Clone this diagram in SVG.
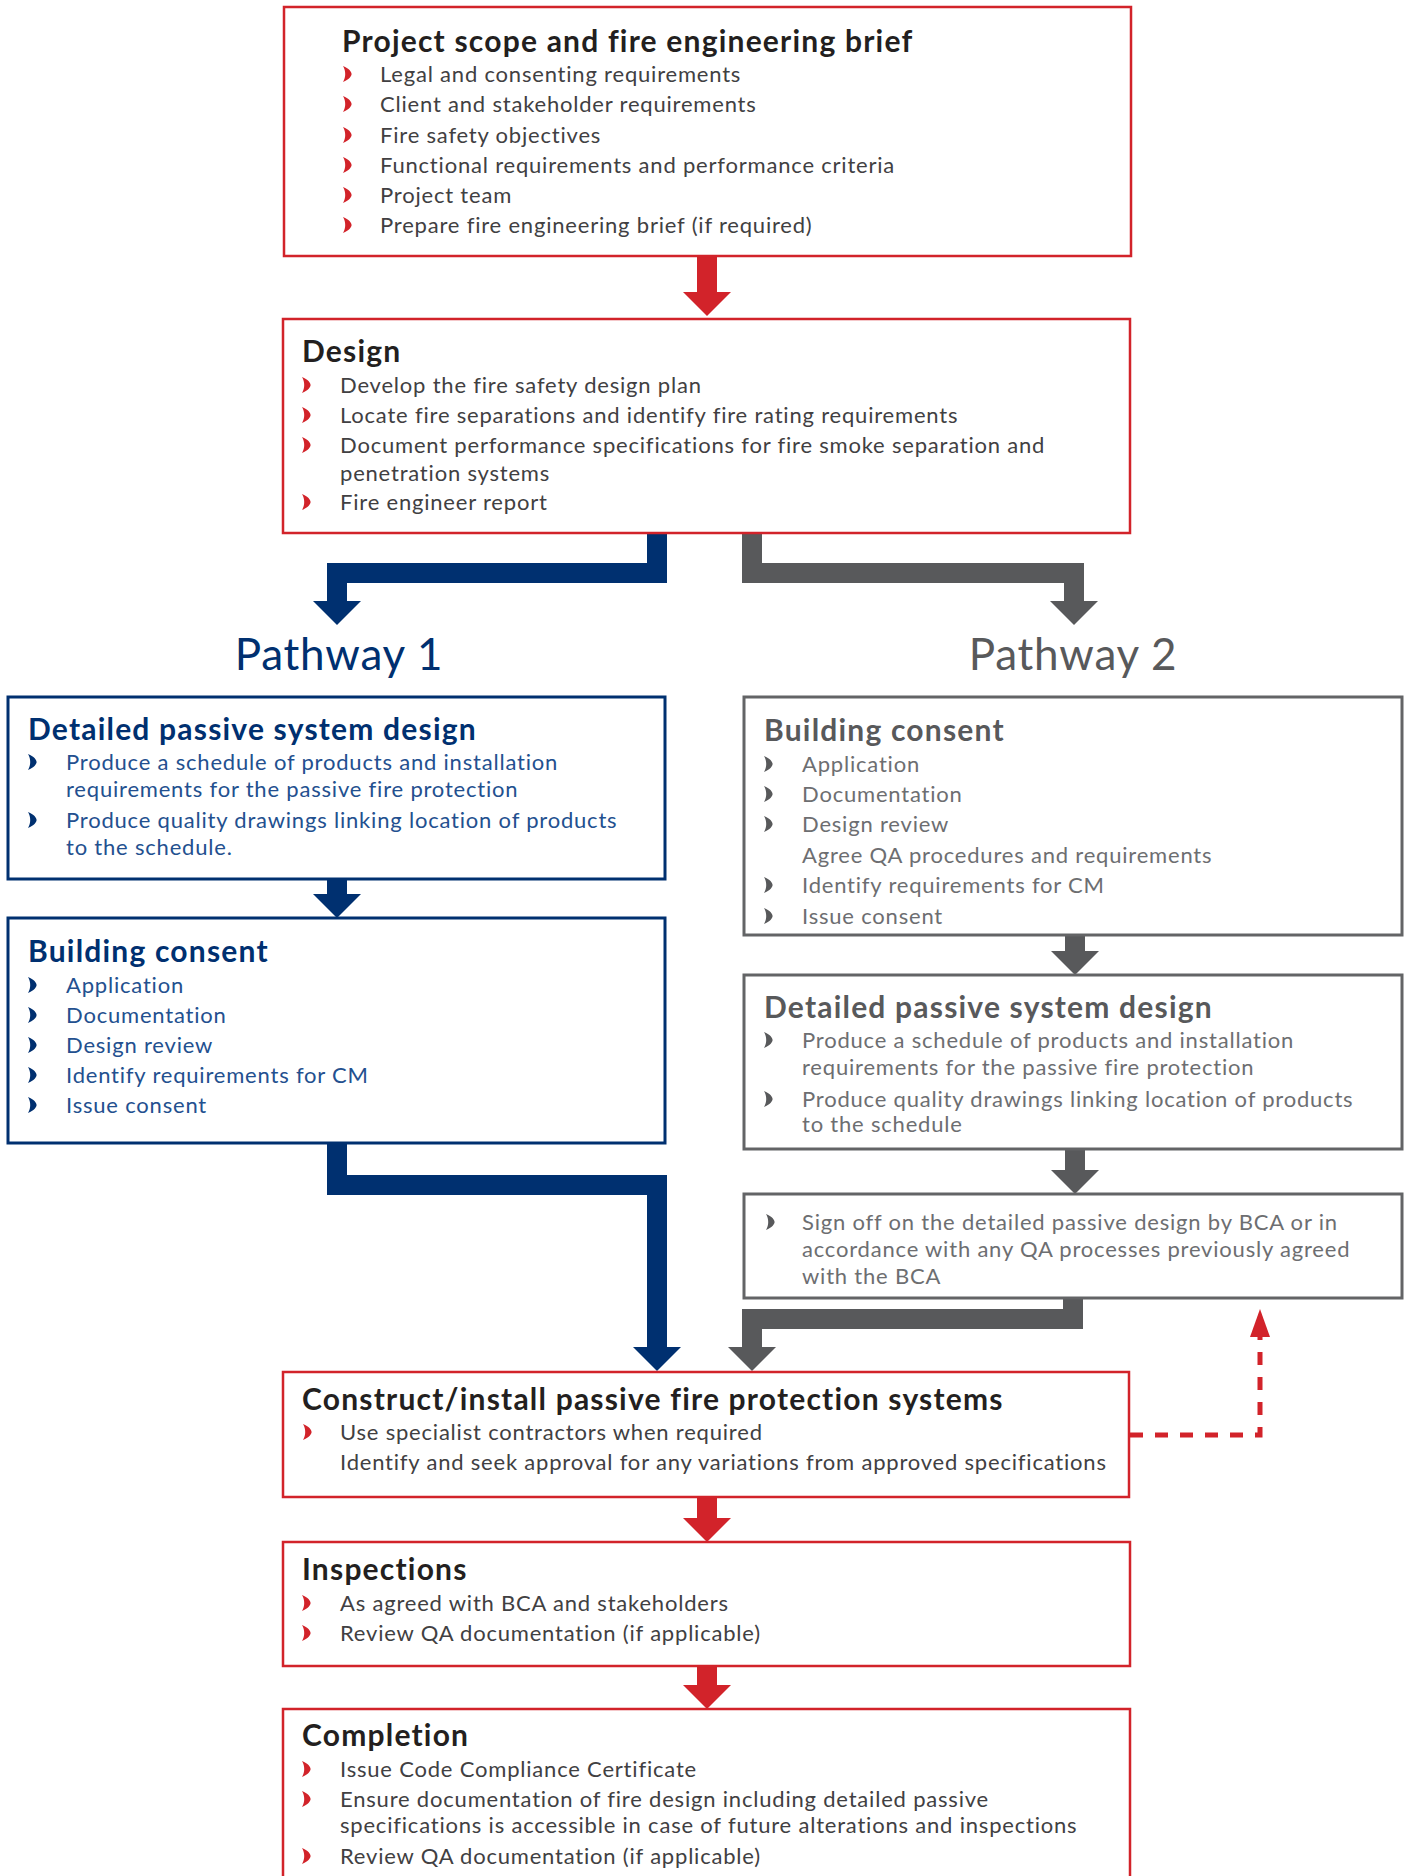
<svg xmlns="http://www.w3.org/2000/svg" xmlns:xlink="http://www.w3.org/1999/xlink" width="1407" height="1876" viewBox="0 0 1407 1876">
<style>
  .bg{fill:#ffffff}
  .rbox{fill:#ffffff;stroke:#d2232a;stroke-width:2.5}
  .bbox{fill:#ffffff;stroke:#003070;stroke-width:3}
  .gbox{fill:#ffffff;stroke:#636466;stroke-width:3}
  text{font-family:Lato,"Liberation Sans",sans-serif}
  .t{font-size:30px;font-weight:700;letter-spacing:1.2px}
  .b{font-size:22px;letter-spacing:0.8px}
  .tk{fill:#231f20}
  .bk{fill:#414042}
  .tb{fill:#003070}
  .bb{fill:#23508f}
  .tg{fill:#58595b}
  .bg2{fill:#6d6e71}
  .pw{font-size:44px;letter-spacing:0.8px}
  .rc{fill:#d2232a}
  .bc{fill:#003070}
  .gc{fill:#58595b}
  .cr{fill:none;stroke:#d2232a;stroke-width:20}
  .cb{fill:none;stroke:#003070;stroke-width:20}
  .cg{fill:none;stroke:#58595b;stroke-width:20}
  .cd{fill:none;stroke:#d2232a;stroke-width:5;stroke-dasharray:13 12}
</style>
<defs>
  <path id="bul" d="M0,-16 C6,-13.5 8.6,-10.2 8.6,-8 C8.6,-5.8 6,-2.5 0,0 C1.6,-2.8 2.2,-5.5 2.2,-8 C2.2,-10.5 1.6,-13.2 0,-16 Z"/>
  <marker id="hr" markerUnits="userSpaceOnUse" markerWidth="24" markerHeight="48" viewBox="0 0 24 48" refX="0" refY="24" orient="auto"><path d="M0,0 L24,24 L0,48 Z" fill="#d2232a"/></marker>
  <marker id="hb" markerUnits="userSpaceOnUse" markerWidth="24" markerHeight="48" viewBox="0 0 24 48" refX="0" refY="24" orient="auto"><path d="M0,0 L24,24 L0,48 Z" fill="#003070"/></marker>
  <marker id="hg" markerUnits="userSpaceOnUse" markerWidth="24" markerHeight="48" viewBox="0 0 24 48" refX="0" refY="24" orient="auto"><path d="M0,0 L24,24 L0,48 Z" fill="#58595b"/></marker>
  <marker id="hd" markerUnits="userSpaceOnUse" markerWidth="28" markerHeight="20" viewBox="0 0 28 20" refX="0" refY="10" orient="auto"><path d="M0,0 L28,10 L0,20 Z" fill="#d2232a"/></marker>
</defs>
<rect class="bg" x="0" y="0" width="1407" height="1876"/>

<g id="connectors">
  <path class="cr" d="M707,256 V292" marker-end="url(#hr)"/>
  <path class="cb" d="M657,533 V573 H337 V601" marker-end="url(#hb)"/>
  <path class="cg" d="M752,533 V573 H1074 V601" marker-end="url(#hg)"/>
  <path class="cb" d="M337,879 V894" marker-end="url(#hb)"/>
  <path class="cb" d="M337,1143 V1185 H657 V1347" marker-end="url(#hb)"/>
  <path class="cg" d="M1075,935 V951" marker-end="url(#hg)"/>
  <path class="cg" d="M1075,1149 V1170" marker-end="url(#hg)"/>
  <path class="cg" d="M1073,1298 V1319 H752 V1347" marker-end="url(#hg)"/>
  <path class="cr" d="M707,1497 V1518" marker-end="url(#hr)"/>
  <path class="cr" d="M707,1666 V1685" marker-end="url(#hr)"/>
  <path class="cd" d="M1130,1435 H1260 V1337" marker-end="url(#hd)"/>
</g>

<g id="brief">
  <rect class="rbox" x="284" y="7" width="847" height="249"/>
  <text class="t tk" x="342" y="52">Project scope and fire engineering brief</text>
  <g class="rc">
    <use xlink:href="#bul" x="343" y="82"/><use xlink:href="#bul" x="343" y="112"/><use xlink:href="#bul" x="343" y="143"/>
    <use xlink:href="#bul" x="343" y="173"/><use xlink:href="#bul" x="343" y="203"/><use xlink:href="#bul" x="343" y="233"/>
  </g>
  <text class="b bk" x="380" y="82">Legal and consenting requirements</text>
  <text class="b bk" x="380" y="112">Client and stakeholder requirements</text>
  <text class="b bk" x="380" y="143">Fire safety objectives</text>
  <text class="b bk" x="380" y="173">Functional requirements and performance criteria</text>
  <text class="b bk" x="380" y="203">Project team</text>
  <text class="b bk" x="380" y="233">Prepare fire engineering brief (if required)</text>
</g>

<g id="design">
  <rect class="rbox" x="283" y="319" width="847" height="214"/>
  <text class="t tk" x="302" y="362">Design</text>
  <g class="rc">
    <use xlink:href="#bul" x="302" y="393"/><use xlink:href="#bul" x="302" y="423"/><use xlink:href="#bul" x="302" y="453"/><use xlink:href="#bul" x="302" y="510"/>
  </g>
  <text class="b bk" x="340" y="393">Develop the fire safety design plan</text>
  <text class="b bk" x="340" y="423">Locate fire separations and identify fire rating requirements</text>
  <text class="b bk" x="340" y="453">Document performance specifications for fire smoke separation and</text>
  <text class="b bk" x="340" y="481">penetration systems</text>
  <text class="b bk" x="340" y="510">Fire engineer report</text>
</g>

<g id="pathway1-label">
  <text class="pw tb" x="339" y="670" text-anchor="middle">Pathway 1</text>
</g>
<g id="pathway2-label">
  <text class="pw tg" x="1073" y="670" text-anchor="middle">Pathway 2</text>
</g>

<g id="p1-detailed">
  <rect class="bbox" x="8" y="697" width="657" height="182"/>
  <text class="t tb" x="28" y="740">Detailed passive system design</text>
  <g class="bc"><use xlink:href="#bul" x="28" y="770"/><use xlink:href="#bul" x="28" y="828"/></g>
  <text class="b bb" x="66" y="770">Produce a schedule of products and installation</text>
  <text class="b bb" x="66" y="797">requirements for the passive fire protection</text>
  <text class="b bb" x="66" y="828">Produce quality drawings linking location of products</text>
  <text class="b bb" x="66" y="855">to the schedule.</text>
</g>

<g id="p1-consent">
  <rect class="bbox" x="8" y="918" width="657" height="225"/>
  <text class="t tb" x="28" y="962">Building consent</text>
  <g class="bc">
    <use xlink:href="#bul" x="28" y="993"/><use xlink:href="#bul" x="28" y="1023"/><use xlink:href="#bul" x="28" y="1053"/>
    <use xlink:href="#bul" x="28" y="1083"/><use xlink:href="#bul" x="28" y="1113"/>
  </g>
  <text class="b bb" x="66" y="993">Application</text>
  <text class="b bb" x="66" y="1023">Documentation</text>
  <text class="b bb" x="66" y="1053">Design review</text>
  <text class="b bb" x="66" y="1083">Identify requirements for CM</text>
  <text class="b bb" x="66" y="1113">Issue consent</text>
</g>

<g id="p2-consent">
  <rect class="gbox" x="744" y="697" width="658" height="238"/>
  <text class="t tg" x="764" y="741">Building consent</text>
  <g class="gc">
    <use xlink:href="#bul" x="764" y="772"/><use xlink:href="#bul" x="764" y="802"/><use xlink:href="#bul" x="764" y="832"/>
    <use xlink:href="#bul" x="764" y="893"/><use xlink:href="#bul" x="764" y="924"/>
  </g>
  <text class="b bg2" x="802" y="772">Application</text>
  <text class="b bg2" x="802" y="802">Documentation</text>
  <text class="b bg2" x="802" y="832">Design review</text>
  <text class="b bg2" x="802" y="863">Agree QA procedures and requirements</text>
  <text class="b bg2" x="802" y="893">Identify requirements for CM</text>
  <text class="b bg2" x="802" y="924">Issue consent</text>
</g>

<g id="p2-detailed">
  <rect class="gbox" x="744" y="975" width="658" height="174"/>
  <text class="t tg" x="764" y="1018">Detailed passive system design</text>
  <g class="gc"><use xlink:href="#bul" x="764" y="1048"/><use xlink:href="#bul" x="764" y="1107"/></g>
  <text class="b bg2" x="802" y="1048">Produce a schedule of products and installation</text>
  <text class="b bg2" x="802" y="1075">requirements for the passive fire protection</text>
  <text class="b bg2" x="802" y="1107">Produce quality drawings linking location of products</text>
  <text class="b bg2" x="802" y="1132">to the schedule</text>
</g>

<g id="p2-signoff">
  <rect class="gbox" x="744" y="1194" width="658" height="104"/>
  <g class="gc"><use xlink:href="#bul" x="766" y="1230"/></g>
  <text class="b bg2" x="802" y="1230">Sign off on the detailed passive design by BCA or in</text>
  <text class="b bg2" x="802" y="1257">accordance with any QA processes previously agreed</text>
  <text class="b bg2" x="802" y="1284">with the BCA</text>
</g>

<g id="construct">
  <rect class="rbox" x="283" y="1372" width="846" height="125"/>
  <text class="t tk" x="302" y="1410">Construct/install passive fire protection systems</text>
  <g class="rc"><use xlink:href="#bul" x="303" y="1440"/></g>
  <text class="b bk" x="340" y="1440">Use specialist contractors when required</text>
  <text class="b bk" x="340" y="1470">Identify and seek approval for any variations from approved specifications</text>
</g>

<g id="inspections">
  <rect class="rbox" x="283" y="1542" width="847" height="124"/>
  <text class="t tk" x="302" y="1580">Inspections</text>
  <g class="rc"><use xlink:href="#bul" x="302" y="1611"/><use xlink:href="#bul" x="302" y="1641"/></g>
  <text class="b bk" x="340" y="1611">As agreed with BCA and stakeholders</text>
  <text class="b bk" x="340" y="1641">Review QA documentation (if applicable)</text>
</g>

<g id="completion">
  <rect class="rbox" x="283" y="1709" width="847" height="180"/>
  <text class="t tk" x="302" y="1746">Completion</text>
  <g class="rc">
    <use xlink:href="#bul" x="302" y="1777"/><use xlink:href="#bul" x="302" y="1807"/><use xlink:href="#bul" x="302" y="1864"/>
  </g>
  <text class="b bk" x="340" y="1777">Issue Code Compliance Certificate</text>
  <text class="b bk" x="340" y="1807">Ensure documentation of fire design including detailed passive</text>
  <text class="b bk" x="340" y="1833">specifications is accessible in case of future alterations and inspections</text>
  <text class="b bk" x="340" y="1864">Review QA documentation (if applicable)</text>
</g>
</svg>
